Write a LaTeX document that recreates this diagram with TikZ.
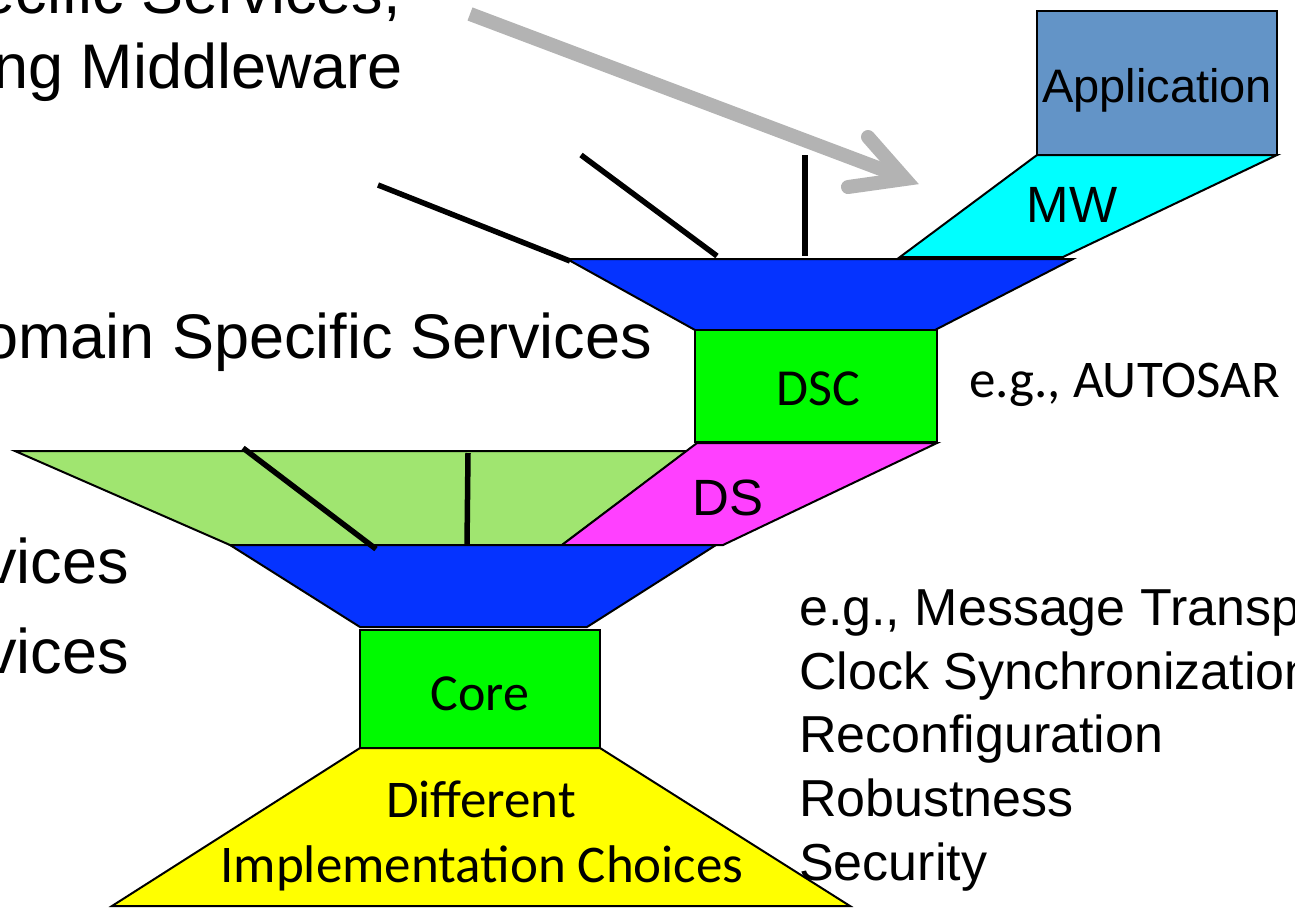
\documentclass[tikz,border=0pt]{standalone}
\usepackage{fontspec}
\setmainfont{Liberation Sans}
\newfontfamily\calibrifont{Carlito}
\definecolor{appblue}{RGB}{99,148,199}
\definecolor{mwcyan}{RGB}{0,255,255}
\definecolor{layerblue}{RGB}{5,51,255}
\definecolor{boxgreen}{RGB}{0,250,0}
\definecolor{dsmagenta}{RGB}{255,64,255}
\definecolor{leafgreen}{RGB}{160,229,112}
\definecolor{baseyellow}{RGB}{255,255,0}
\definecolor{arrowgray}{RGB}{179,179,179}
\tikzset{
  layer/.style={draw=black, line width=2pt, line join=miter},
  boxnode/.style={layer, inner sep=0pt, outer sep=0pt, anchor=north west},
  port/.style={draw=black, line width=5.5pt},
  bigtext/.style={inner sep=0pt, font=\fontsize{63}{63}\selectfont},
  listtext/.style={inner sep=0pt, anchor=base west, font=\fontsize{52}{52}\selectfont},
  boxtext/.style={inner sep=0pt, anchor=base, font=\calibrifont\fontsize{53}{53}\selectfont},
  arialbox/.style={inner sep=0pt, anchor=base},
  grayarrow/.style={draw=arrowgray, line width=14pt}
}
\begin{document}
\begin{tikzpicture}[x=1pt,y=-1pt]
\useasboundingbox (0,0) rectangle (1295,908);
\clip (0,0) rectangle (1295,908);

% headings on the left
\node[bigtext, anchor=base east] (h1) at (401,13) {ecific Services,};
\node[bigtext, anchor=base east] (h2) at (403,88) {ng Middleware};
\node[bigtext, anchor=base east] (h3) at (652,358) {omain Specific Services};
\node[bigtext, anchor=base east] (h4) at (129,583) {vices};
\node[bigtext, anchor=base east] (h5) at (129,673) {vices};

% grey pointer
\coordinate (arrS) at (470,14);
\coordinate (arrE) at (902,177);
\coordinate (armA) at (868,137);
\coordinate (armT) at (905,179);
\coordinate (armB) at (848,187);
\draw[grayarrow, line cap=butt] (arrS) -- (arrE);
\draw[grayarrow, line cap=round, line join=miter] (armA) -- (armT) -- (armB);

% application stack
\path[layer, fill=mwcyan] (1037,155) -- (1277,155) -- (1063,257) -- (900,257) -- cycle;
\node[boxnode, fill=appblue, minimum width=240pt, minimum height=144pt] (app) at (1037,11) {};
\node[arialbox, font=\fontsize{47}{47}\selectfont] (apptxt) at (1157,102) {Application};
\node[arialbox, font=\fontsize{51}{51}\selectfont] (mwtxt) at (1072,222) {MW};

% upper funnel
\path[layer, fill=layerblue] (567,259) -- (1073,259) -- (935,330) -- (695,330) -- cycle;
\node[boxnode, fill=boxgreen, minimum width=242pt, minimum height=112pt] (dsc) at (695,330) {};
\node[boxtext, font=\calibrifont\fontsize{52}{52}\selectfont] (dsctxt) at (818,405) {DSC};
\node[inner sep=0pt, anchor=base west, font=\calibrifont\fontsize{53}{53}\selectfont] (autosar) at (969,397) {e.g., AUTOSAR};

% lower funnel
\path[layer, fill=leafgreen] (15,451) -- (687,451) -- (562,545) -- (230,545) -- cycle;
\path[layer, fill=dsmagenta] (697,443) -- (937,443) -- (723,545) -- (562,545) -- cycle;
\node[inner sep=0pt, anchor=base west, font=\fontsize{51}{51}\selectfont] (dstxt) at (692,515) {DS};
\path[layer, fill=layerblue] (230,545) -- (716,545) -- (587,627) -- (360,627) -- cycle;
\node[boxnode, fill=boxgreen, minimum width=240pt, minimum height=118pt] (core) at (360,630) {};
\node[boxtext, font=\calibrifont\fontsize{52}{52}\selectfont] (coretxt) at (480,710) {Core};
\path[layer, fill=baseyellow] (360,748) -- (600,748) -- (850,906) -- (112,906) -- cycle;
\node[boxtext] (diff1) at (481,817) {Different};
\node[boxtext] (diff2) at (482,882) {Implementation Choices};

% service ports
\coordinate (p1a) at (378,185);
\coordinate (p1b) at (570,261);
\coordinate (p2a) at (581,155);
\coordinate (p2b) at (717,256);
\coordinate (p3a) at (805,155);
\coordinate (p3b) at (805,256);
\coordinate (p4a) at (243,448);
\coordinate (p4b) at (376,549);
\coordinate (p5a) at (468,453);
\coordinate (p5b) at (467,545);
\draw[port] (p1a) -- (p1b);
\draw[port] (p2a) -- (p2b);
\draw[port] (p3a) -- (p3b);
\draw[port] (p4a) -- (p4b);
\draw[port] (p5a) -- (p5b);

% core services list
\node[listtext] (l1) at (799,625) {e.g., Message Transport};
\node[listtext] (l2) at (799,689) {Clock Synchronization};
\node[listtext] (l3) at (799,752) {Reconfiguration};
\node[listtext] (l4) at (799,816) {Robustness};
\node[listtext] (l5) at (799,880) {Security};
\end{tikzpicture}
\end{document}
